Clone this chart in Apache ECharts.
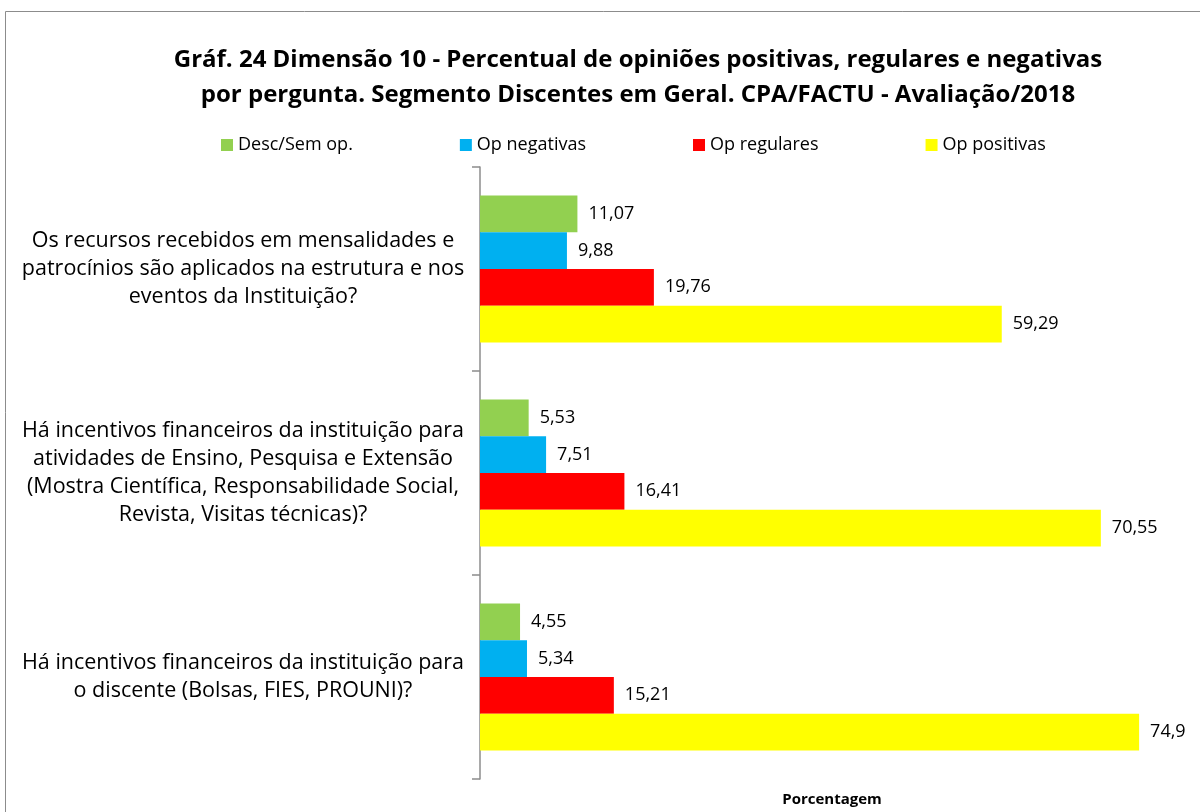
<!DOCTYPE html>
<html>
<head>
<meta charset="utf-8">
<script src="https://cdn.jsdelivr.net/npm/echarts@6/dist/echarts.min.js"></script>
<style>
  html, body { margin: 0; padding: 0; background: #fff; }
  #chart { width: 1200px; height: 812px; }
</style>
</head>
<body>
<div id="chart"></div>
<script>
  // perguntas (eixo vertical)
  const categories = [
    'Os recursos recebidos em mensalidades e\npatrocínios são aplicados na estrutura e nos\neventos da Instituição?',
    'Há incentivos financeiros da instituição para\natividades de Ensino, Pesquisa e Extensão\n(Mostra Científica, Responsabilidade Social,\nRevista, Visitas técnicas)?',
    'Há incentivos financeiros da instituição para\no discente (Bolsas, FIES, PROUNI)?'
  ]
  const seriesNames = ['Desc/Sem op.', 'Op negativas', 'Op regulares', 'Op positivas']
  const seriesColors = ['#92D050', '#00B0F0', '#FF0000', '#FFFF00']
  const descSemOp = [11.07, 5.53, 4.55]
  const opNegativas = [9.88, 7.51, 5.34]
  const opRegulares = [19.76, 16.41, 15.21]
  const opPositivas = [59.29, 70.55, 74.9]
  const seriesValues = [descSemOp, opNegativas, opRegulares, opPositivas]

  const font = '"Open Sans", sans-serif'
  const chart = echarts.init(document.getElementById('chart'))

  const series = seriesValues.map((vals, i) => ({
    name: seriesNames[i],
    type: 'bar',
    data: vals,
    barGap: 0,
    barCategoryGap: '28%',
    itemStyle: { color: seriesColors[i] },
    label: {
      show: true,
      position: 'right',
      distance: 11,
      color: '#000',
      fontFamily: font,
      fontSize: 18,
      formatter: p => String(p.value).replace('.', ',')
    }
  }))

  chart.setOption({
    animation: false,
    textStyle: { fontFamily: font },
    graphic: [{
      type: 'rect',
      shape: { x: 5.5, y: 11.5, width: 1300, height: 900 },
      style: { fill: 'none', stroke: '#8c8c8c', lineWidth: 1 },
      silent: true
    }],
    title: {
      text: 'Gráf. 24 Dimensão 10 - Percentual de opiniões positivas, regulares e negativas\npor pergunta. Segmento Discentes em Geral. CPA/FACTU - Avaliação/2018',
      left: 633,
      top: 38,
      textAlign: 'center',
      textStyle: {
        fontFamily: font,
        fontSize: 24,
        fontWeight: 'bold',
        color: '#000',
        lineHeight: 35
      }
    },
    legend: {
      data: seriesNames,
      top: 131,
      left: 216,
      itemGap: 107,
      itemWidth: 12,
      itemHeight: 12,
      itemStyle: { borderWidth: 0 },
      icon: 'rect',
      textStyle: { fontFamily: font, fontSize: 18, color: '#000', width: 110 }
    },
    grid: {
      left: 480,
      right: 16,
      top: 167,
      bottom: 30,
      containLabel: false
    },
    xAxis: {
      type: 'value',
      min: 0,
      max: 80,
      name: 'Porcentagem',
      nameLocation: 'middle',
      nameGap: 13,
      nameTextStyle: { fontFamily: font, fontSize: 15, fontWeight: 'bold', color: '#000' },
      axisLine: { show: false },
      axisTick: { show: false },
      axisLabel: { show: false },
      splitLine: { show: false }
    },
    yAxis: {
      type: 'category',
      data: categories,
      inverse: true,
      axisLine: { show: true, lineStyle: { color: '#8c8c8c', width: 1.5 } },
      axisTick: { show: true, length: 8, lineStyle: { color: '#8c8c8c', width: 1.5 } },
      axisLabel: {
        margin: 237,
        align: 'center',
        fontFamily: font,
        fontSize: 21.5,
        lineHeight: 28,
        color: '#000'
      }
    },
    series: series
  })
</script>
</body>
</html>
